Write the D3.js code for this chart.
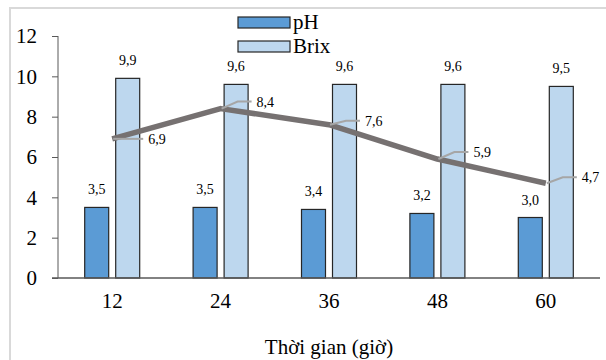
<!DOCTYPE html>
<html>
<head>
<meta charset="utf-8">
<script src="https://cdn.jsdelivr.net/npm/d3@7"></script>
<style>
  body { margin: 0; background: #fff; }
  svg { display: block; }
  svg text { font-family: "Liberation Serif", "Times New Roman", serif; }
</style>
</head>
<body>
<svg id="chart" width="606" height="360"></svg>
<script>
var hours = ["12", "24", "36", "48", "60"];
var phValues = [3.5, 3.5, 3.4, 3.2, 3.0];
var brixValues = [9.9, 9.6, 9.6, 9.6, 9.5];
var lineValues = [6.9, 8.4, 7.6, 5.9, 4.7];
var yTicks = [0, 2, 4, 6, 8, 10, 12];
var seriesNames = ["pH", "Brix"];
var seriesColors = ["#5b9bd5", "#bdd7ee"];

// leader lines for the line labels rise a little, except the first one
var leaderRise = [0, 7, 4, 7, 6];

var svg = d3.select("#chart");
var plotLeft = 58, plotRight = 600, plotTop = 36, plotBottom = 278;

var fmt = function (v) { return v.toFixed(1).replace(".", ","); };

// chart frame
svg.append("path")
  .attr("d", "M10,370 L10,8 L620,8")
  .attr("fill", "none")
  .attr("stroke", "#d9d9d9")
  .attr("stroke-width", 2);

var x0 = d3.scaleBand().domain(hours).range([plotLeft, plotRight]);
var x1 = d3.scaleBand().domain(seriesNames).range([0, 55]).paddingInner(0.226);
var y = d3.scaleLinear().domain([0, 12]).range([plotBottom, plotTop]);
var groupOffset = (x0.bandwidth() - 55) / 2;

// y axis
var yAxis = svg.append("g")
  .attr("transform", "translate(" + plotLeft + ",0)")
  .call(d3.axisLeft(y).tickValues(yTicks).tickSize(6).tickPadding(15));
yAxis.select(".domain").attr("stroke", "#595959").attr("d", "M0," + plotTop + "V" + plotBottom);
yAxis.selectAll(".tick line").attr("stroke", "#595959");
yAxis.selectAll("text")
  .attr("font-size", 21)
  .attr("fill", "#000");

// bars
var rows = hours.map(function (h, i) {
  return { hour: h, values: [phValues[i], brixValues[i]] };
});

var groups = svg.selectAll("g.group")
  .data(rows)
  .enter()
  .append("g")
  .attr("class", "group")
  .attr("transform", function (d) { return "translate(" + (x0(d.hour) + groupOffset) + ",0)"; });

groups.selectAll("rect")
  .data(function (d) { return d.values.map(function (v, j) { return { name: seriesNames[j], value: v, color: seriesColors[j] }; }); })
  .enter()
  .append("rect")
  .attr("x", function (d) { return x1(d.name); })
  .attr("y", function (d) { return y(d.value); })
  .attr("width", x1.bandwidth())
  .attr("height", function (d) { return plotBottom - y(d.value); })
  .attr("fill", function (d) { return d.color; })
  .attr("stroke", "#262626")
  .attr("stroke-width", 1.2);

groups.selectAll("text.bar-label")
  .data(function (d) { return d.values.map(function (v, j) { return { name: seriesNames[j], value: v }; }); })
  .enter()
  .append("text")
  .attr("class", "bar-label")
  .attr("x", function (d) { return x1(d.name) + x1.bandwidth() / 2; })
  .attr("y", function (d) { return y(d.value) - 13; })
  .attr("text-anchor", "middle")
  .attr("font-size", 14)
  .attr("fill", "#000")
  .text(function (d) { return fmt(d.value); });

// x axis
var xAxis = svg.append("g")
  .attr("transform", "translate(0," + plotBottom + ")")
  .call(d3.axisBottom(x0).tickSize(0).tickPadding(15));
xAxis.select(".domain").attr("stroke", "#595959").attr("stroke-width", 1.5).attr("d", "M52,0H" + plotRight);
xAxis.selectAll("text")
  .attr("font-size", 21)
  .attr("fill", "#000");

svg.append("text")
  .attr("x", (plotLeft + plotRight) / 2)
  .attr("y", 354)
  .attr("text-anchor", "middle")
  .attr("font-size", 21)
  .attr("fill", "#000")
  .text("Thời gian (giờ)");

// line series
var cx = function (i) { return x0(hours[i]) + x0.bandwidth() / 2; };

var line = d3.line()
  .x(function (d, i) { return cx(i); })
  .y(function (d) { return y(d); });

svg.append("path")
  .datum(lineValues)
  .attr("d", line)
  .attr("fill", "none")
  .attr("stroke", "#767171")
  .attr("stroke-width", 5.5)
  .attr("stroke-linejoin", "round");

lineValues.forEach(function (v, i) {
  var px = cx(i), py = y(v), rise = leaderRise[i];
  svg.append("path")
    .attr("d", "M" + (px + 1) + "," + py + "L" + (px + 17) + "," + (py - rise) + "L" + (px + 31) + "," + (py - rise))
    .attr("fill", "none")
    .attr("stroke", "#a6a6a6")
    .attr("stroke-width", 2);
  svg.append("text")
    .attr("x", px + 36)
    .attr("y", py - rise + 5)
    .attr("font-size", 14)
    .attr("fill", "#000")
    .text(fmt(v));
});

// legend
var legend = svg.append("g").attr("transform", "translate(238,17)");
seriesNames.forEach(function (name, i) {
  legend.append("rect")
    .attr("x", 0)
    .attr("y", i * 24)
    .attr("width", 52)
    .attr("height", 11)
    .attr("fill", seriesColors[i])
    .attr("stroke", "#262626")
    .attr("stroke-width", 1.2);
  legend.append("text")
    .attr("x", 55)
    .attr("y", i * 24 + 12)
    .attr("font-size", 21)
    .attr("fill", "#000")
    .text(name);
});
</script>
</body>
</html>
